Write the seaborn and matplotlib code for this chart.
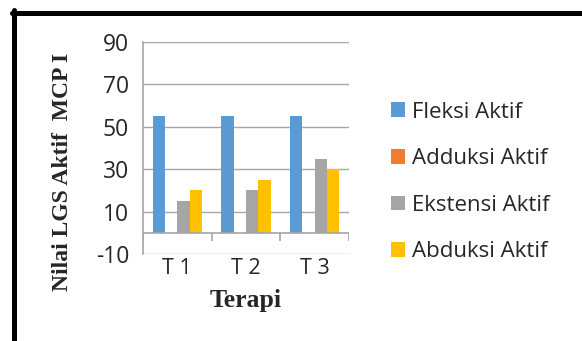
import pandas as pd
import matplotlib.pyplot as plt
import seaborn as sns
from matplotlib.patches import Patch
from matplotlib.lines import Line2D

# data
terapi = ["T 1", "T 2", "T 3"]
fleksi = [55, 55, 55]
adduksi = [0, 0, 0]
ekstensi = [15, 20, 35]
abduksi = [20, 25, 30]
seri = ["Fleksi Aktif", "Adduksi Aktif", "Ekstensi Aktif", "Abduksi Aktif"]
warna = ["#5B9BD5", "#ED7D31", "#A5A5A5", "#FFC000"]

rows = []
for nama, nilai in zip(seri, [fleksi, adduksi, ekstensi, abduksi]):
    for t, v in zip(terapi, nilai):
        rows.append({"Terapi": t, "Seri": nama, "Nilai": v})
data = pd.DataFrame(rows)

sns.set_style("white")
plt.rcParams['font.family'] = ['Open Sans', 'DejaVu Sans']
plt.rcParams['axes.unicode_minus'] = False

fig = plt.figure(figsize=(5.82, 3.41), dpi=100)
ax = fig.add_axes([143/582, 1-254/341, 206/582, 212/341])

sns.barplot(data=data, x="Terapi", y="Nilai", hue="Seri", hue_order=seri,
            palette=warna, width=0.72, gap=0, saturation=1,
            edgecolor="none", linewidth=0, ax=ax, legend=False)

grid = "#A6A6A6"
ax.set_ylim(-10, 90)
ax.set_xlim(-0.5, 2.5)
ax.set_yticks([-10, 10, 30, 50, 70, 90])
ax.grid(axis="y", color=grid, linewidth=1)
ax.set_axisbelow(True)
for s in ["top", "right", "bottom"]:
    ax.spines[s].set_visible(False)
ax.spines["left"].set_color(grid)
ax.spines["left"].set_linewidth(1.2)
ax.tick_params(axis="y", length=6, color=grid, width=1, pad=4, labelsize=16.5)
ax.tick_params(axis="x", length=0, pad=3, labelsize=15.5)
ax.set_xlabel("")
ax.set_ylabel("")

# category axis crossing at zero
ax.axhline(0, color=grid, linewidth=1.2, zorder=3)
ax.vlines([-0.5, 0.5, 1.5, 2.5], -3.8, 0, color=grid, linewidth=1.2, zorder=3)

serif = dict(family="Liberation Serif", weight="bold")
fig.text(62/582, 1-172/341, "Nilai LGS Aktif  MCP I", rotation=90,
         ha="center", va="center", fontsize=17, **serif)
fig.text(246/582, 1-301/341, "Terapi", ha="center", va="center",
         fontsize=18.5, **serif)

handles = [Patch(facecolor=c, edgecolor="none") for c in warna]
fig.legend(handles, seri, loc="center left", bbox_to_anchor=(391/582, 1-182/341),
           frameon=False, fontsize=16, handlelength=0.65, handleheight=0.65,
           handletextpad=0.3, labelspacing=1.15, borderpad=0, borderaxespad=0)

# thick frame (top and left sides only visible)
fig.add_artist(Line2D([12/582, 1], [1-12.5/341, 1-12.5/341], color="black",
                      linewidth=3.6, transform=fig.transFigure))
fig.add_artist(Line2D([14/582, 14/582], [0, 1-10/341], color="black",
                      linewidth=3.6, transform=fig.transFigure))

fig.savefig("out.png", dpi=100)
